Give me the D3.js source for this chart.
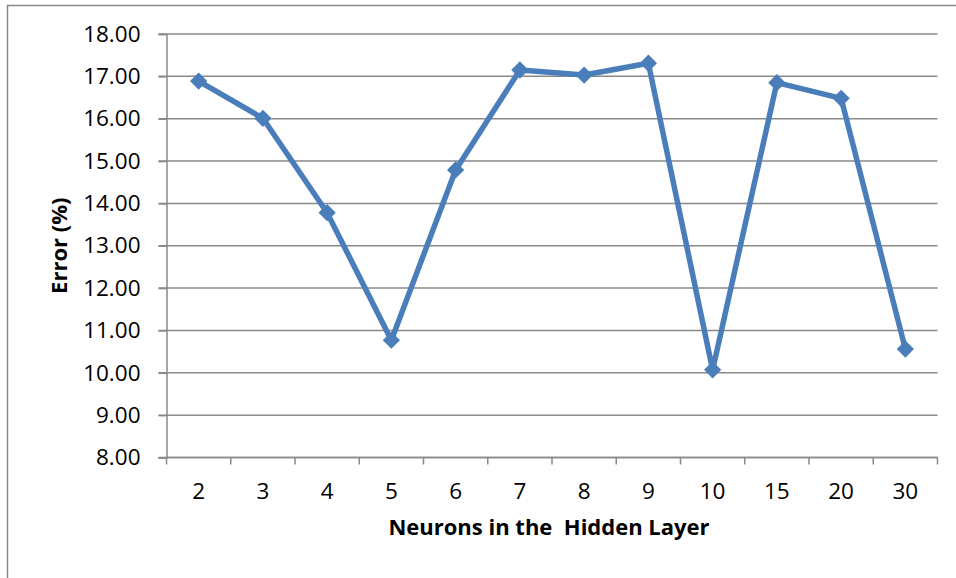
<!DOCTYPE html>
<html>
<head>
<meta charset="utf-8">
<script src="https://cdnjs.cloudflare.com/ajax/libs/d3/7.8.5/d3.min.js"></script>
<style>
  html, body { margin: 0; padding: 0; background: #fff; }
  svg { display: block; font-family: "Open Sans", Lato, sans-serif; }
</style>
</head>
<body>
<svg id="chart" width="956" height="578"></svg>
<script>
// Hidden-layer sizes tested and the resulting error rate
const neurons = ["2", "3", "4", "5", "6", "7", "8", "9", "10", "15", "20", "30"];
const errorPct = [16.89, 16.01, 13.78, 10.77, 14.79, 17.15, 17.03, 17.31, 10.07, 16.85, 16.48, 10.56];
const yTicks = [8, 9, 10, 11, 12, 13, 14, 15, 16, 17, 18];

const svg = d3.select("#chart");
const W = 956, H = 578;
const plot = { left: 166.5, right: 937.5, top: 34, bottom: 457.5 };
const gridColor = "#898989";
const lineColor = "#4a7ebb";

// Chart frame (only top and left edges fall inside the view)
svg.append("path")
  .attr("d", `M7.5,${H} V5.5 H${W}`)
  .attr("fill", "none")
  .attr("stroke", gridColor)
  .attr("stroke-width", 1.5);

const x = d3.scaleBand().domain(neurons).range([plot.left, plot.right]).paddingInner(0).paddingOuter(0);
const y = d3.scaleLinear().domain([8, 18]).range([plot.bottom, plot.top]);

// Horizontal gridlines
svg.append("g")
  .selectAll("line")
  .data(yTicks)
  .join("line")
  .attr("x1", plot.left - 8)
  .attr("x2", plot.right)
  .attr("y1", d => y(d))
  .attr("y2", d => y(d))
  .attr("stroke", gridColor)
  .attr("stroke-width", 1.5);

// Y axis
const yAxis = svg.append("g")
  .attr("transform", `translate(${plot.left},0)`)
  .call(d3.axisLeft(y).tickValues(yTicks).tickFormat(d3.format(".2f")).tickSize(8).tickPadding(18));
yAxis.select(".domain").attr("stroke", gridColor).attr("stroke-width", 1.5);
yAxis.selectAll(".tick line").attr("stroke", gridColor).attr("stroke-width", 1.5);
yAxis.selectAll("text")
  .attr("font-family", "'Open Sans', Lato, sans-serif")
  .attr("font-size", 22.5).attr("fill", "#000");

// X axis with ticks on category boundaries
const xAxisG = svg.append("g").attr("transform", `translate(0,${plot.bottom})`);
xAxisG.append("line")
  .attr("x1", plot.left).attr("x2", plot.right)
  .attr("stroke", gridColor).attr("stroke-width", 1.5);
const boundaries = neurons.map(d => x(d)).concat([x(neurons[neurons.length - 1]) + x.bandwidth()]);
xAxisG.selectAll("line.tk")
  .data(boundaries)
  .join("line")
  .attr("class", "tk")
  .attr("x1", d => d).attr("x2", d => d)
  .attr("y1", 0).attr("y2", 7)
  .attr("stroke", gridColor).attr("stroke-width", 1.5);
xAxisG.selectAll("text")
  .data(neurons)
  .join("text")
  .attr("x", d => x(d) + x.bandwidth() / 2)
  .attr("y", 41.5)
  .attr("text-anchor", "middle")
  .attr("font-size", 22.5)
  .attr("fill", "#000")
  .text(d => d);

// Axis titles
svg.append("text")
  .attr("x", 549)
  .attr("y", 535)
  .attr("text-anchor", "middle")
  .attr("font-size", 22)
  .attr("font-weight", "bold")
  .style("white-space", "pre")
  .text("Neurons in the  Hidden Layer");

svg.append("text")
  .attr("transform", `translate(67,${(plot.top + plot.bottom) / 2}) rotate(-90)`)
  .attr("text-anchor", "middle")
  .attr("font-size", 22)
  .attr("font-weight", "bold")
  .text("Error (%)");

// Series line
const cx = d => x(d) + x.bandwidth() / 2;
const line = d3.line().x((d, i) => cx(neurons[i])).y(d => y(d));
svg.append("path")
  .datum(errorPct)
  .attr("d", line)
  .attr("fill", "none")
  .attr("stroke", lineColor)
  .attr("stroke-width", 5.5)
  .attr("stroke-linejoin", "round");

// Diamond markers
svg.append("g")
  .selectAll("path")
  .data(errorPct)
  .join("path")
  .attr("transform", (d, i) => `translate(${cx(neurons[i])},${y(d)})`)
  .attr("d", d3.symbol(d3.symbolDiamond2, 190)())
  .attr("fill", lineColor);
</script>
</body>
</html>
